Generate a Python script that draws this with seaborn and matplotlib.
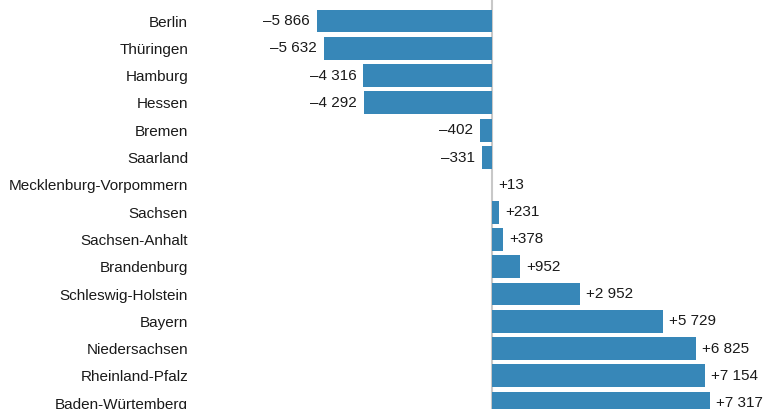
import pandas as pd
import seaborn as sns
import matplotlib.pyplot as plt

states = [
    "Berlin", "Thüringen", "Hamburg", "Hessen", "Bremen", "Saarland",
    "Mecklenburg-Vorpommern", "Sachsen", "Sachsen-Anhalt", "Brandenburg",
    "Schleswig-Holstein", "Bayern", "Niedersachsen", "Rheinland-Pfalz",
    "Baden-Würtemberg",
]
values = [-5866, -5632, -4316, -4292, -402, -331, 13, 231, 378, 952,
          2952, 5729, 6825, 7154, 7317]

df = pd.DataFrame({"state": states, "value": values})

sns.set_style("white")
plt.rcParams["font.family"] = ["Liberation Sans", "DejaVu Sans"]

W, H = 763, 409
fig = plt.figure(figsize=(W / 100, H / 100), dpi=100)
ax = fig.add_axes([200 / W, 0, 1 - 200 / W, 1])

sns.barplot(data=df, x="value", y="state", orient="h", color="#3787b8",
            saturation=1, width=0.84, linewidth=0, ax=ax)

# pixel mapping: zero at x=492, ~0.02983 px per unit
scale = 0.02983
ax.set_xlim((200 - 492) / scale, (763 - 492) / scale)
ax.set_ylim((409 - 21) / 27.3, -21 / 27.3)
ax.axvline(0, color="#c8c8c8", lw=1.5, zorder=0)

for i, v in enumerate(values):
    txt = f"{abs(v):,}".replace(",", " ")
    if v < 0:
        ax.text(v - 7 / scale, i, "–" + txt, ha="right", va="center",
                fontsize=11, color="#1a1a1a")
    else:
        ax.text(v + 6 / scale, i, "+" + txt, ha="left", va="center",
                fontsize=11, color="#1a1a1a")

ax.set_xlabel("")
ax.set_ylabel("")
ax.set_xticks([])
ax.tick_params(axis="y", length=0, pad=8.6, labelsize=11, labelcolor="#1a1a1a")
sns.despine(ax=ax, left=True, bottom=True)

fig.savefig("out.png", dpi=100)
